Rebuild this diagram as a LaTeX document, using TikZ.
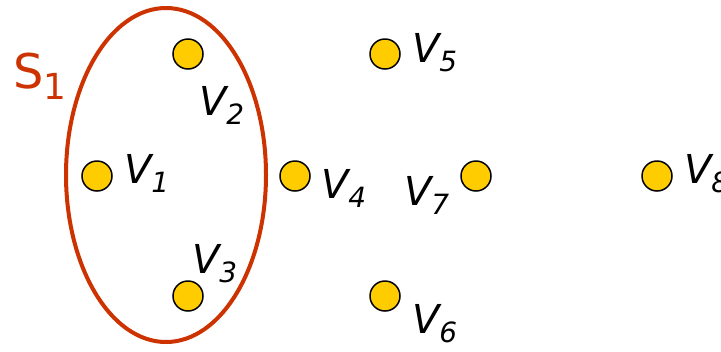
\documentclass[tikz,border=0pt]{standalone}
\usepackage{fontspec}
\setmainfont{DejaVu Sans}
\usetikzlibrary{positioning}
\definecolor{vtxyellow}{HTML}{FFCC00}
\definecolor{setred}{HTML}{CC3300}
% vertex name with lowered index
\newcommand{\vname}[1]{V\raisebox{-0.25em}{\fontsize{28}{30}\selectfont #1}}
\begin{document}
\begin{tikzpicture}[x=1bp,y=-1bp,
  vtx/.style={circle,draw=black,line width=1.5bp,fill=vtxyellow,minimum size=30bp,inner sep=0pt},
  vlabel/.style={anchor=base west,inner sep=0pt,font=\fontsize{40}{48}\selectfont\itshape}]
\clip (0,0) rectangle (721,351);

% the set S1
\draw[setred,line width=4bp] (166,175) ellipse [x radius=100,y radius=167];
\node[anchor=base west,inner sep=0pt,text=setred,font=\fontsize{48}{56}\selectfont] (s1) at (13,88)
  {S\raisebox{-0.25em}{\fontsize{36}{40}\selectfont 1}};

% vertices
\node[vtx] (v1) at (97,176) {};
\node[vtx] (v2) at (188,54) {};
\node[vtx] (v3) at (188,296) {};
\node[vtx] (v4) at (295,176) {};
\node[vtx] (v5) at (385,54) {};
\node[vtx] (v6) at (385,296) {};
\node[vtx] (v7) at (476,176) {};
\node[vtx] (v8) at (657,176) {};

% names
\node[vlabel] (l1) at (124,183) {\vname{1}};
\node[vlabel] (l2) at (199,115) {\vname{2}};
\node[vlabel] (l3) at (192,273) {\vname{3}};
\node[vlabel] (l4) at (321,198) {\vname{4}};
\node[vlabel] (l5) at (412,62) {\vname{5}};
\node[vlabel] (l6) at (412,333) {\vname{6}};
\node[vlabel] (l7) at (404,205) {\vname{7}};
\node[vlabel] (l8) at (684,183) {\vname{8}};
\end{tikzpicture}
\end{document}
